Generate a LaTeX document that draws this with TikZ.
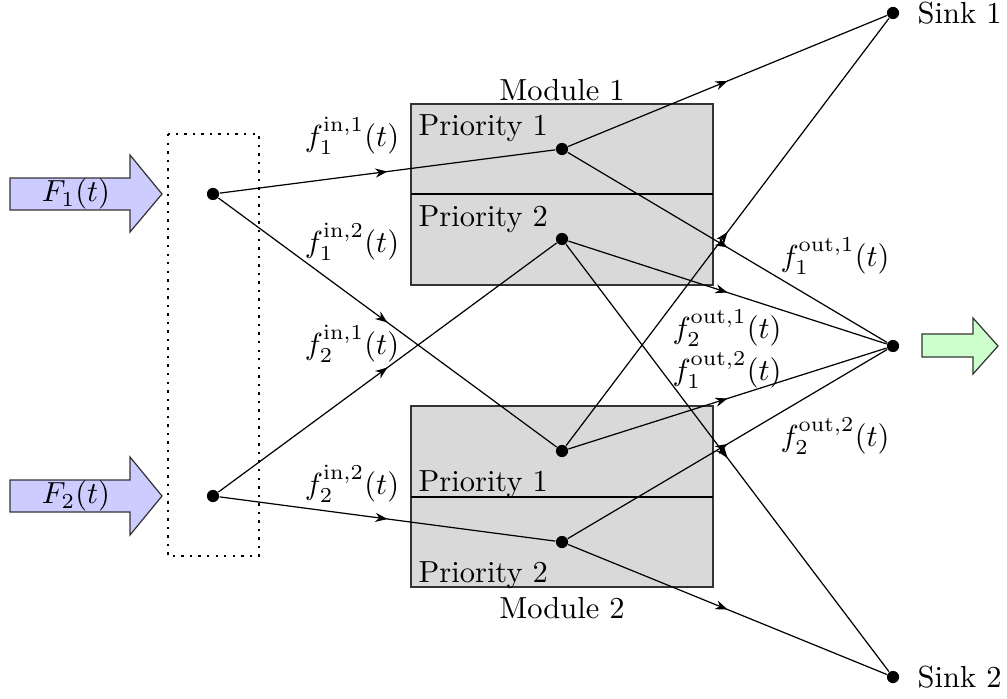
\documentclass[tikz,border=0pt]{standalone}
\usetikzlibrary{arrows.meta,decorations.markings}
\begin{document}
\begin{tikzpicture}[x=0.328pt,y=-0.328pt,
  dot/.style={circle,fill=black,inner sep=0pt,minimum size=4pt},
  flow/.style={postaction={decorate},decoration={markings,mark=at position 0.5 with {\arrow{Stealth[length=4pt,width=3pt]}}}},
  modbox/.style={draw=black!80,fill=black!15},
  lbl/.style={inner sep=0pt},
  bigarrow/.style={draw=black!80}]
\useasboundingbox (0,0) rectangle (1007,698);
% input arrows
\draw[bigarrow,fill=blue!20] (10,178) -- (130,178) -- (130,155) -- (162,194) -- (130,232) -- (130,210) -- (10,210) -- cycle;
\node[lbl] (F1) at (76,194) {$F_1(t)$};
\draw[bigarrow,fill=blue!20] (10,480) -- (130,480) -- (130,457) -- (162,496) -- (130,535) -- (130,512) -- (10,512) -- cycle;
\node[lbl] (F2) at (76,496) {$F_2(t)$};
% output arrow
\draw[bigarrow,fill=green!20] (922,334) -- (973,334) -- (973,318) -- (998,346) -- (973,374) -- (973,357) -- (922,357) -- cycle;
% dotted box
\draw[dotted,thick] (168,134) rectangle (259,556);
% modules
\draw[modbox] (411,104) rectangle (713,285);
\draw (411,194) -- (713,194);
\draw[modbox] (411,406) rectangle (713,587);
\draw (411,497) -- (713,497);
\node[lbl,anchor=north west] (p11) at (418,114) {Priority 1};
\node[lbl,anchor=north west] (p12) at (418,205) {Priority 2};
\node[lbl,anchor=south west] (p21) at (418,498) {Priority 1};
\node[lbl,anchor=south west] (p22) at (418,589) {Priority 2};
\node[lbl,anchor=south] (m1) at (562,101) {Module 1};
\node[lbl,anchor=north] (m2) at (562,597) {Module 2};
% dots
\node[dot] (s1) at (213,194) {};
\node[dot] (s2) at (213,496) {};
\node[dot] (a1) at (562,149) {};
\node[dot] (a2) at (562,239) {};
\node[dot] (b1) at (562,451) {};
\node[dot] (b2) at (562,542) {};
\node[dot] (k1) at (893,13) {};
\node[dot] (k2) at (893,677) {};
\node[dot] (mg) at (893,346) {};
\node[lbl,anchor=west] at (917,13) {Sink 1};
\node[lbl,anchor=west] at (917,677) {Sink 2};
% edges
\draw[flow] (s1) -- (a1);
\draw[flow] (s1) -- (b1);
\draw[flow] (s2) -- (a2);
\draw[flow] (s2) -- (b2);
\draw[flow] (a1) -- (k1);
\draw[flow] (a1) -- (mg);
\draw[flow] (a2) -- (mg);
\draw[flow] (a2) -- (k2);
\draw[flow] (b1) -- (k1);
\draw[flow] (b1) -- (mg);
\draw[flow] (b2) -- (mg);
\draw[flow] (b2) -- (k2);
% labels
\node[lbl] at (352,136) {$f_1^{\mathrm{in},1}(t)$};
\node[lbl] at (352,242) {$f_1^{\mathrm{in},2}(t)$};
\node[lbl] at (352,344) {$f_2^{\mathrm{in},1}(t)$};
\node[lbl] at (352,484) {$f_2^{\mathrm{in},2}(t)$};
\node[lbl] at (835,256) {$f_1^{\mathrm{out},1}(t)$};
\node[lbl] at (727,328) {$f_2^{\mathrm{out},1}(t)$};
\node[lbl] at (727,370) {$f_1^{\mathrm{out},2}(t)$};
\node[lbl] at (835,436) {$f_2^{\mathrm{out},2}(t)$};
\end{tikzpicture}
\end{document}
